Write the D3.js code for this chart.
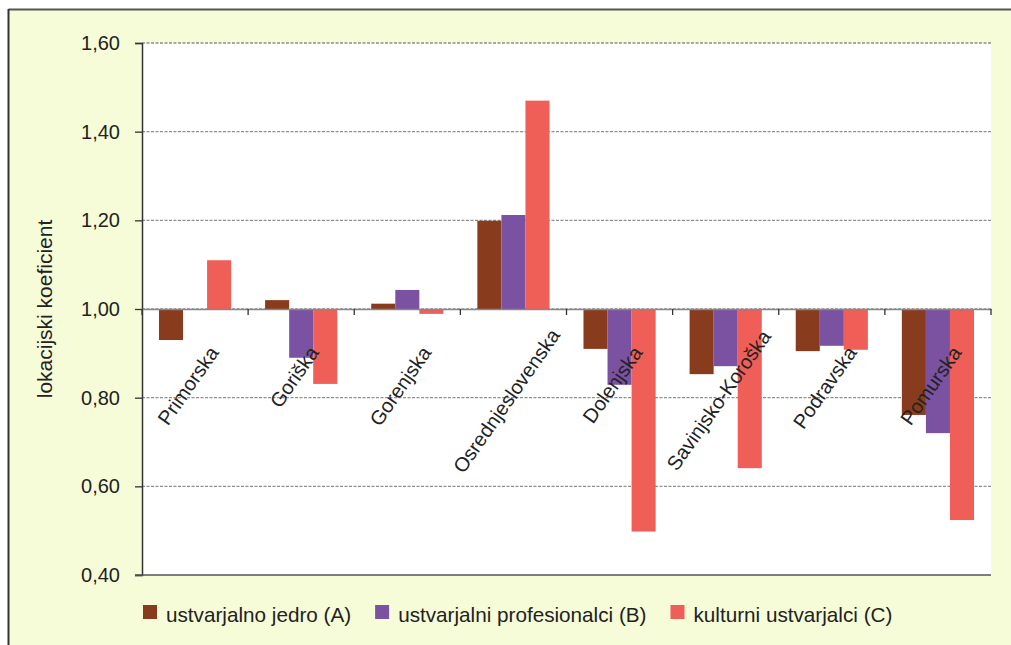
<!DOCTYPE html>
<html><head><meta charset="utf-8">
<script src="https://cdn.jsdelivr.net/npm/d3@7"></script>
<style>html,body{margin:0;padding:0;background:#fff;}svg{display:block;}</style>
</head><body>
<svg id="c" width="1011" height="645"></svg>
<script>
const categories = ["Primorska","Goriška","Gorenjska","Osrednjeslovenska","Dolenjska","Savinjsko-Koroška","Podravska","Pomurska"];
const seriesNames = ["ustvarjalno jedro (A)","ustvarjalni profesionalci (B)","kulturni ustvarjalci (C)"];
const seriesA = [0.930,1.020,1.012,1.199,0.910,0.853,0.905,0.761];
const seriesB = [1.000,0.890,1.043,1.212,0.829,0.871,0.917,0.720];
const seriesC = [1.110,0.831,0.989,1.470,0.498,0.641,0.908,0.524];
const colors = ["#893B1E","#7B51A1","#F05E58"];
const yTicks = [0.40,0.60,0.80,1.00,1.20,1.40,1.60];
const yTitle = "lokacijski koeficient";

const values = [seriesA, seriesB, seriesC];
const svg = d3.select("#c");
const font = "'Liberation Sans', Arial, sans-serif";

// background frame
svg.append("rect").attr("x",0).attr("y",0).attr("width",1011).attr("height",645).attr("fill","#fff");
svg.append("rect").attr("x",9).attr("y",10).attr("width",1010).attr("height",640).attr("fill","#F7FCD8");
svg.append("line").attr("x1",8.5).attr("x2",1011).attr("y1",9.5).attr("y2",9.5).attr("stroke","#555").attr("stroke-width",2);
svg.append("line").attr("x1",8.5).attr("x2",8.5).attr("y1",9).attr("y2",645).attr("stroke","#333").attr("stroke-width",2);

const L = 142, R = 991, T = 43, B = 575;
svg.append("rect").attr("x",L).attr("y",T).attr("width",R-L).attr("height",B-T).attr("fill","#fff");

const y = d3.scaleLinear().domain([0.4,1.6]).range([B,T]);
const x0 = d3.scaleBand().domain(categories).range([L,R]).paddingInner(0).paddingOuter(0);
const groupW = x0.bandwidth()*0.68;
const x1 = d3.scaleBand().domain(seriesNames).range([0,groupW]);

// gridlines
svg.append("g").selectAll("line").data(yTicks.filter(t=>t>0.41)).join("line")
  .attr("x1",L).attr("x2",R).attr("y1",d=>y(d)).attr("y2",d=>y(d))
  .attr("stroke","#8f8f8f").attr("stroke-width",1.4).attr("stroke-dasharray","3,1.5");

// y axis
const yAxis = d3.axisLeft(y).tickValues(yTicks).tickSize(7).tickPadding(15)
  .tickFormat(d=>d3.format(".2f")(d).replace(".",","));
const gy = svg.append("g").attr("transform",`translate(${L},0)`).call(yAxis);
gy.select(".domain").attr("stroke","#333").attr("stroke-width",1.5);
gy.selectAll(".tick line").attr("stroke","#333").attr("stroke-width",1.3);
gy.selectAll("text").attr("font-family",font).attr("font-size",20).attr("fill","#222");

// bottom line at 0.40
svg.append("line").attr("x1",L-7).attr("x2",R).attr("y1",y(0.4)).attr("y2",y(0.4)).attr("stroke","#555").attr("stroke-width",1.5);

// bars
const data = [];
categories.forEach((c,i)=>seriesNames.forEach((s,j)=>data.push({c,s,j,v:values[j][i]})));
svg.append("g").selectAll("rect").data(data).join("rect")
  .attr("x",d=>x0(d.c)+(x0.bandwidth()-groupW)/2+x1(d.s))
  .attr("width",x1.bandwidth())
  .attr("y",d=>Math.min(y(d.v),y(1)))
  .attr("height",d=>Math.abs(y(d.v)-y(1)))
  .attr("fill",d=>colors[d.j]);

// category axis at 1.00
const xAxis = d3.axisBottom(x0).tickSize(0).tickFormat("");
const gx = svg.append("g").attr("transform",`translate(0,${y(1)})`).call(xAxis);
gx.select(".domain").attr("stroke","#888").attr("stroke-width",1.3);
const bounds = categories.map(c=>x0(c)+x0.bandwidth()).concat([L]);
gx.selectAll(".bt").data(bounds).join("line").attr("class","bt")
  .attr("x1",d=>d).attr("x2",d=>d).attr("y1",0).attr("y2",6).attr("stroke","#333").attr("stroke-width",1.3);

// rotated category labels
const ang = -55, rad = ang*Math.PI/180;
svg.append("g").selectAll("text").data(categories).join("text")
  .attr("font-family",font).attr("font-size",20).attr("fill","#222")
  .attr("text-anchor","middle").attr("dominant-baseline","central")
  .text(d=>d)
  .attr("transform",function(d){
    const len = this.getComputedTextLength();
    const h = len*Math.abs(Math.sin(rad)) + 20*Math.abs(Math.cos(rad));
    const top = 343 - Math.max(0,len-100)*0.25;
    const cx = x0(d)+x0.bandwidth()/2 - 7;
    return `translate(${cx},${top+h/2}) rotate(${ang})`;
  });

// y title
svg.append("text").attr("font-family",font).attr("font-size",21).attr("fill","#222")
  .attr("text-anchor","middle").attr("transform",`translate(52,309) rotate(-90)`).text(yTitle);

// legend
const lg = svg.append("g").attr("transform","translate(143,605)");
let lx = 0;
seriesNames.forEach((s,j)=>{
  lg.append("rect").attr("x",lx).attr("y",0).attr("width",14).attr("height",14).attr("fill",colors[j]);
  const t = lg.append("text").attr("x",lx+23).attr("y",17).attr("font-family",font).attr("font-size",20.7).attr("fill","#222").text(s);
  lx += 23 + t.node().getComputedTextLength() + 24;
});
</script>
</body></html>
